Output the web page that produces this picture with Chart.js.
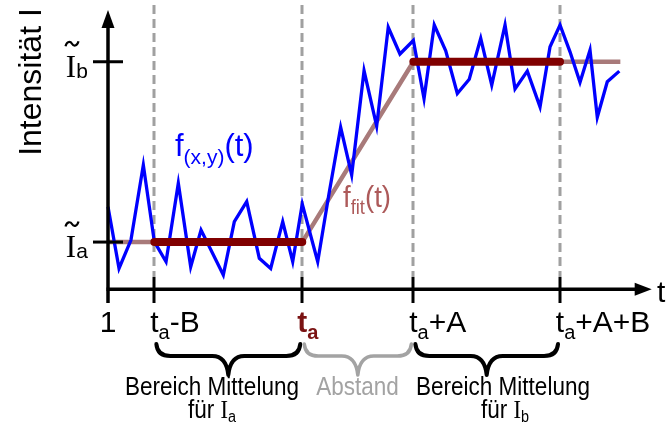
<!DOCTYPE html>
<html>
<head>
<meta charset="utf-8">
<script src="https://cdn.jsdelivr.net/npm/chart.js@4.4.1/dist/chart.umd.min.js"></script>
<style>
  html, body { margin: 0; padding: 0; background: #ffffff; }
  #wrap { width: 667px; height: 423px; position: relative; }
</style>
</head>
<body>
<div id="wrap"><canvas id="chart" width="667" height="423"></canvas></div>
<script>
// Sampled signal f(x,y)(t): time of each sample and its intensity
const sampleTimes = [
  1.00, 1.97, 3.02, 4.11, 5.08, 6.11, 7.19, 8.28, 9.19, 10.15,
  11.15, 12.12, 13.21, 14.32, 15.32, 16.38, 17.26, 18.10, 19.46, 20.45,
  21.48, 22.45, 23.54, 24.65, 25.67, 26.70, 27.88, 28.82, 29.72, 30.73,
  31.75, 32.80, 33.81, 34.78, 35.95, 36.83, 37.91, 39.03, 39.91, 40.79,
  41.67, 42.55, 43.43, 44.07, 44.95, 46.01
];
const sampleIntensity = [
  11.96, 8.54, 10.11, 14.27, 10.02, 8.91, 13.26, 8.63, 10.67, 9.45,
  8.17, 11.13, 12.24, 9.10, 8.54, 11.13, 8.91, 12.11, 8.91, 12.66,
  16.36, 13.72, 19.50, 16.43, 21.91, 20.43, 21.18, 17.96, 22.04, 20.61,
  18.24, 19.03, 21.30, 18.71, 22.04, 18.49, 19.48, 17.50, 20.83, 22.04,
  20.55, 18.86, 20.65, 16.92, 18.89, 19.48
];

// Marked times on the t axis: 1, ta-B, ta, ta+A, ta+A+B
const markTimes = [1, 5.08, 18.10, 27.88, 40.79];

// Plateau levels Ĩa and Ĩb
const levelA = 10;
const levelB = 20;

// Piecewise linear fit f_fit(t)
const fitTimes = [1, 18.10, 27.88, 46.10];
const fitValues = [10, 10, 20, 20];

// Axis ranges
const tMin = 1, tMax = 48.86;
const iMin = 7.38, iMax = 22.87;

const FONT = '"Liberation Sans", Arial, sans-serif';
const SERIF = '"Liberation Serif", "Times New Roman", serif';

function pts(xs, ys) { return xs.map((x, i) => ({ x: x, y: ys[i] })); }

// draw a sequence of text runs (main text + subscripts) starting at x
function drawRuns(ctx, runs, x, baseline, sx) {
  sx = sx || 1;
  let cx = x;
  runs.forEach(r => {
    ctx.font = r.font;
    ctx.fillStyle = r.color || '#000';
    ctx.textAlign = 'left';
    ctx.textBaseline = 'alphabetic';
    ctx.save();
    ctx.translate(cx, baseline + (r.dy || 0));
    ctx.scale(sx, 1);
    ctx.fillText(r.t, 0, 0);
    ctx.restore();
    cx += ctx.measureText(r.t).width * sx + (r.gap || 0);
  });
  return cx - x;
}
function runsWidth(ctx, runs, sx) {
  sx = sx || 1;
  let w = 0;
  runs.forEach(r => { ctx.font = r.font; w += ctx.measureText(r.t).width * sx + (r.gap || 0); });
  return w;
}
function tilde(ctx, x, y) {
  ctx.save();
  ctx.beginPath();
  ctx.moveTo(x - 6.5, y + 2.5);
  ctx.bezierCurveTo(x - 5, y - 3, x - 1.5, y - 2.5, x, y);
  ctx.bezierCurveTo(x + 1.5, y + 2.5, x + 5, y + 3, x + 6.5, y - 2.5);
  ctx.lineWidth = 2.2;
  ctx.strokeStyle = '#000';
  ctx.stroke();
  ctx.restore();
}
function brace(ctx, x1, x2, color, width) {
  const yTop = 344, yMid = 356, yTip = 375;
  const m = (x1 + x2) / 2;
  ctx.save();
  ctx.beginPath();
  ctx.moveTo(x1, yTop);
  ctx.quadraticCurveTo(x1 + 1, yMid, x1 + 14, yMid);
  ctx.lineTo(m - 16, yMid);
  ctx.quadraticCurveTo(m - 2, yMid, m, yTip);
  ctx.quadraticCurveTo(m + 2, yMid, m + 16, yMid);
  ctx.lineTo(x2 - 14, yMid);
  ctx.quadraticCurveTo(x2 - 1, yMid, x2, yTop);
  ctx.lineWidth = width;
  ctx.strokeStyle = color;
  ctx.lineJoin = 'round';
  ctx.lineCap = 'round';
  ctx.stroke();
  ctx.restore();
}

const schematic = {
  id: 'schematic',
  beforeDatasetsDraw(chart) {
    const ctx = chart.ctx, xs = chart.scales.x;
    ctx.save();
    ctx.strokeStyle = '#a0a0a0';
    ctx.lineWidth = 3;
    ctx.setLineDash([9, 5]);
    markTimes.slice(1).forEach(t => {
      const px = Math.round(xs.getPixelForValue(t));
      ctx.beginPath();
      ctx.moveTo(px, 5);
      ctx.lineTo(px, 277);
      ctx.stroke();
    });
    ctx.restore();
  },
  afterDatasetsDraw(chart) {
    const ctx = chart.ctx, xs = chart.scales.x, ys = chart.scales.y;
    const x0 = xs.getPixelForValue(tMin);
    const xEnd = xs.getPixelForValue(tMax);
    const yAxis = ys.getPixelForValue(iMin);
    const yTop = ys.getPixelForValue(iMax);
    ctx.save();
    ctx.strokeStyle = '#000';
    ctx.fillStyle = '#000';
    ctx.lineWidth = 3.5;
    ctx.lineCap = 'butt';
    // t axis
    ctx.beginPath();
    ctx.moveTo(x0 - 1.5, yAxis);
    ctx.lineTo(xEnd - 14, yAxis);
    ctx.stroke();
    ctx.beginPath();
    ctx.moveTo(xEnd, yAxis);
    ctx.lineTo(xEnd - 17, yAxis - 6.5);
    ctx.lineTo(xEnd - 17, yAxis + 6.5);
    ctx.closePath();
    ctx.fill();
    // intensity axis
    ctx.beginPath();
    ctx.moveTo(x0, 303);
    ctx.lineTo(x0, yTop + 14);
    ctx.stroke();
    ctx.beginPath();
    ctx.moveTo(x0, yTop);
    ctx.lineTo(x0 - 6.5, yTop + 18);
    ctx.lineTo(x0 + 6.5, yTop + 18);
    ctx.closePath();
    ctx.fill();
    // t ticks
    ctx.lineWidth = 3;
    markTimes.slice(1).forEach(t => {
      const px = Math.round(xs.getPixelForValue(t));
      ctx.beginPath();
      ctx.moveTo(px, 277);
      ctx.lineTo(px, 303);
      ctx.stroke();
    });
    // intensity ticks
    [levelA, levelB].forEach(v => {
      const py = ys.getPixelForValue(v);
      ctx.beginPath();
      ctx.moveTo(93, py);
      ctx.lineTo(123, py);
      ctx.stroke();
    });
    ctx.restore();

    // tick labels on t axis
    const big = '30px ' + FONT, sub = '20px ' + FONT;
    const bigB = 'bold 30px ' + FONT, subB = 'bold 20px ' + FONT;
    const base = 332;
    ctx.font = big;
    drawRuns(ctx, [{ t: '1', font: big }], x0 - ctx.measureText('1').width / 2, base);
    const tW = (f) => { ctx.font = f; return ctx.measureText('t').width; };
    const labelRuns = [
      null,
      [{ t: 't', font: big }, { t: 'a', font: sub, dy: 7 }, { t: '-B', font: big }],
      [{ t: 't', font: bigB, color: '#7a1212' }, { t: 'a', font: subB, dy: 7, color: '#7a1212' }],
      [{ t: 't', font: big }, { t: 'a', font: sub, dy: 7 }, { t: '+A', font: big }],
      [{ t: 't', font: big }, { t: 'a', font: sub, dy: 7 }, { t: '+A+B', font: big }]
    ];
    for (let i = 1; i < markTimes.length; i++) {
      const px = xs.getPixelForValue(markTimes[i]);
      const r = labelRuns[i];
      drawRuns(ctx, r, px - tW(r[0].font) / 2, base);
    }
    drawRuns(ctx, [{ t: 't', font: big }], 657, 302);

    // plateau labels Ĩb, Ĩa
    const serifI = '31px ' + SERIF, subL = '21px ' + FONT;
    [[levelB, 'b'], [levelA, 'a']].forEach(([v, s]) => {
      const py = ys.getPixelForValue(v);
      ctx.font = serifI;
      const iw = ctx.measureText('I').width;
      drawRuns(ctx, [{ t: 'I', font: serifI }, { t: s, font: subL, dy: 1 }], 71 - iw / 2, py + 15);
      tilde(ctx, 72, py - 18);
    });

    // intensity axis title
    ctx.save();
    ctx.translate(41, 82);
    ctx.rotate(-Math.PI / 2);
    ctx.font = '32px ' + FONT;
    ctx.fillStyle = '#000';
    ctx.textAlign = 'center';
    ctx.textBaseline = 'alphabetic';
    ctx.fillText('Intensität I', 0, 0);
    ctx.restore();

    // series labels
    drawRuns(ctx, [
      { t: 'f', font: '31px ' + FONT, color: '#0000ff' },
      { t: '(x,y)', font: '21px ' + FONT, color: '#0000ff', dy: 8 },
      { t: '(t)', font: '31px ' + FONT, color: '#0000ff' }
    ], 175, 156);
    drawRuns(ctx, [
      { t: 'f', font: '30px ' + FONT, color: '#ad5a5a' },
      { t: 'fit', font: '20px ' + FONT, color: '#ad5a5a', dy: 7 },
      { t: '(t)', font: '30px ' + FONT, color: '#ad5a5a', gap: 0 }
    ], 343, 207, 0.92);

    // braces marking the averaging ranges and the gap
    const m = markTimes.map(t => xs.getPixelForValue(t));
    brace(ctx, m[1] + 2, m[2] - 2, '#000', 4);
    brace(ctx, m[2] + 2, m[3] - 2, '#a3a3a3', 3.5);
    brace(ctx, m[3] + 2, m[4] - 2, '#000', 4);

    // captions
    const cap = '25px ' + FONT, capSub = '16px ' + FONT, capI = '25px ' + SERIF;
    const sx = 0.9;
    const center = (runs, cx, b) => {
      const w = runsWidth(ctx, runs, sx);
      drawRuns(ctx, runs, cx - w / 2, b, sx);
    };
    center([{ t: 'Bereich Mittelung', font: cap }], 212, 395);
    center([{ t: 'für ', font: cap }, { t: 'I', font: capI }, { t: 'a', font: capSub, dy: 4 }], 212, 418);
    center([{ t: 'Abstand', font: cap, color: '#a3a3a3' }], 357.5, 395);
    center([{ t: 'Bereich Mittelung', font: cap }], 503, 395);
    center([{ t: 'für ', font: cap }, { t: 'I', font: capI }, { t: 'b', font: capSub, dy: 4 }], 505, 418);
  }
};

new Chart(document.getElementById('chart'), {
  type: 'line',
  data: {
    datasets: [
      {
        label: 'Mittelung Ia',
        data: pts([markTimes[1], markTimes[2]], [levelA, levelA]),
        borderColor: '#800000',
        borderWidth: 8,
        borderCapStyle: 'round',
        pointRadius: 0
      },
      {
        label: 'Mittelung Ib',
        data: pts([markTimes[3], markTimes[4]], [levelB, levelB]),
        borderColor: '#800000',
        borderWidth: 8,
        borderCapStyle: 'round',
        pointRadius: 0
      },
      {
        label: 'f(x,y)(t)',
        data: pts(sampleTimes, sampleIntensity),
        borderColor: '#0000ff',
        borderWidth: 3.3,
        pointRadius: 0,
        tension: 0,
        borderJoinStyle: 'miter'
      },
      {
        label: 'f_fit(t)',
        data: pts(fitTimes, fitValues),
        borderColor: '#a87a7a',
        borderWidth: 4.5,
        pointRadius: 0,
        tension: 0
      }
    ]
  },
  options: {
    responsive: false,
    devicePixelRatio: 1,
    animation: false,
    events: [],
    layout: { padding: { left: 108, right: 15.3, top: 10, bottom: 133.7 } },
    scales: {
      x: { type: 'linear', min: tMin, max: tMax, display: false },
      y: { type: 'linear', min: iMin, max: iMax, display: false }
    },
    plugins: { legend: { display: false }, tooltip: { enabled: false } },
    clip: false
  },
  plugins: [schematic]
});
</script>
</body>
</html>
